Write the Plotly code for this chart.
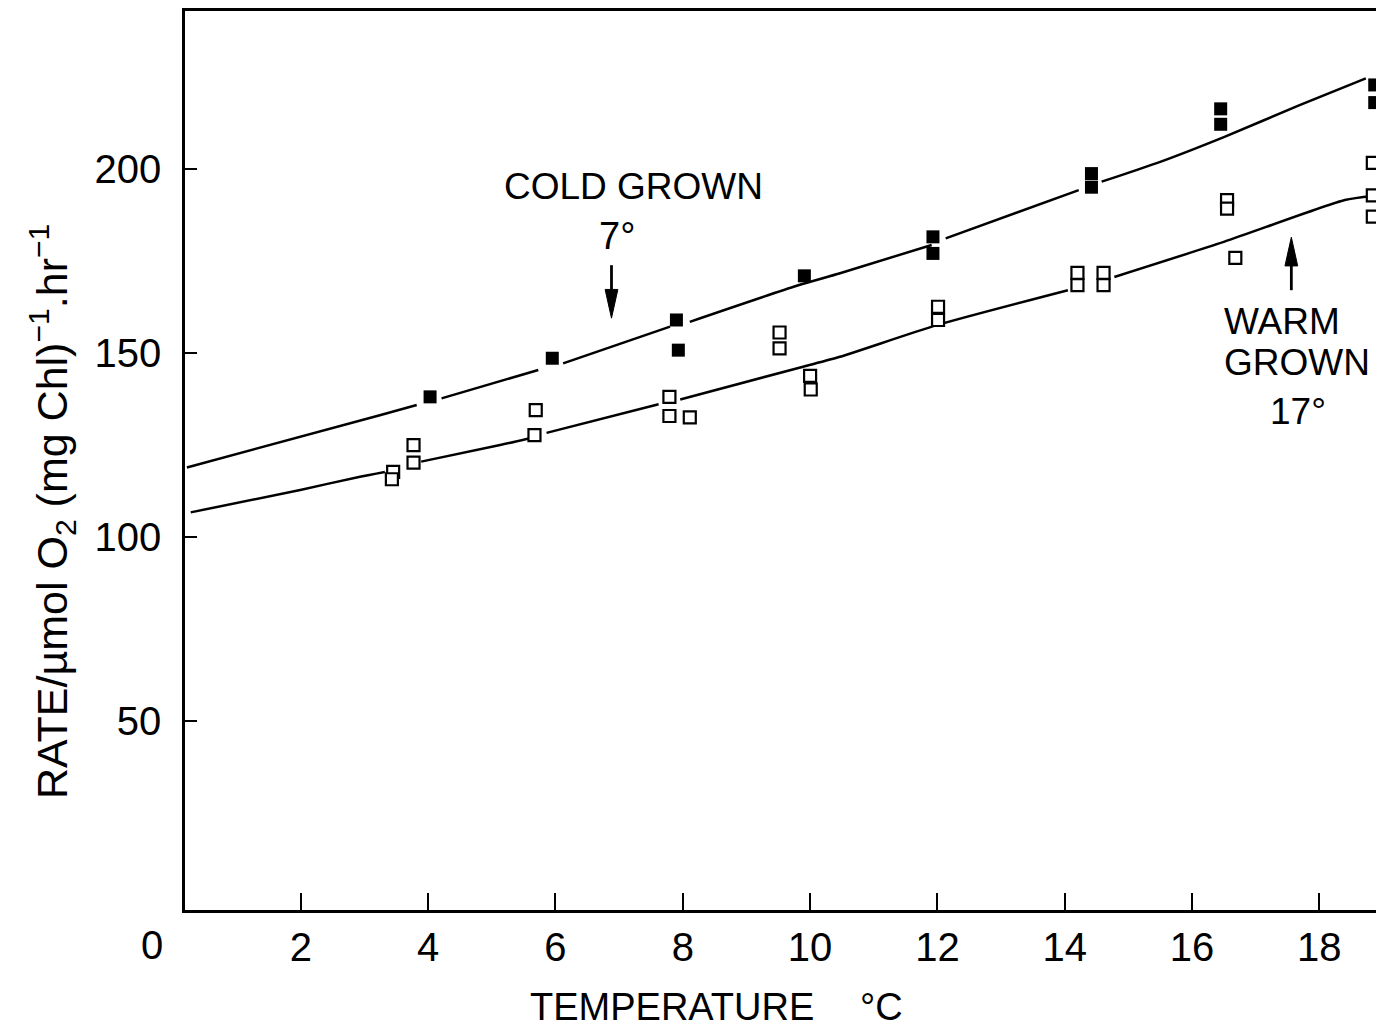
import plotly.graph_objects as go

# ---- measured rates -------------------------------------------------------
# Cold grown (7 °C) cells, filled squares
cold_temp = [4.03, 5.95, 7.90, 7.93, 9.91, 11.93, 11.93, 14.42, 14.42,
             16.45, 16.45, 18.87, 18.87]
cold_rate = [138.0, 148.5, 158.9, 150.7, 170.9, 181.5, 177.0, 198.7, 195.0,
             216.3, 212.1, 222.8, 218.0]

# Warm grown (17 °C) cells, open squares
warm_temp = [3.45, 3.43, 3.77, 3.77, 5.69, 5.67, 7.79, 7.79, 8.11,
             9.52, 9.52, 10.00, 10.01, 12.01, 12.01, 14.20, 14.20,
             14.61, 14.61, 16.55, 16.55, 16.68, 18.84, 18.84, 18.84]
warm_rate = [117.6, 115.6, 124.9, 120.1, 134.4, 127.6, 138.0, 132.8, 132.4,
             155.5, 151.2, 143.7, 140.0, 162.5, 158.9, 171.7, 168.4,
             171.7, 168.4, 191.5, 189.2, 175.8, 201.6, 192.8, 187.0]

# ---- hand-fitted curves (None = pen lifted around a symbol) ---------------
cold_fit_temp = [0.21, 3.24, 3.82, None, 4.21, 5.73, None, 6.12, 7.80, None,
                 8.11, 9.79, 10.47, 11.91, None, 12.13, 14.22, None,
                 14.58, 15.50, 16.51, 17.69, 18.73]
cold_fit_rate = [118.8, 133.0, 135.8, None, 137.6, 145.3, None, 147.1, 157.1, None,
                 158.4, 168.2, 171.6, 179.3, None, 181.1, 194.2, None,
                 196.5, 201.9, 208.7, 217.3, 224.6]

warm_fit_temp = [0.27, 1.99, 2.93, 3.32, None, 3.89, 5.13, 5.58, None,
                 5.86, 7.62, None, 7.96, 9.89, 10.47, 11.99, 14.05, None,
                 14.78, 16.51, 18.40, 18.84]
warm_fit_rate = [106.6, 112.7, 116.3, 117.6, None, 120.4, 124.9, 126.7, None,
                 128.2, 136.0, None, 137.3, 146.2, 148.9, 157.5, 167.0, None,
                 170.6, 180.2, 191.5, 192.6]

x_ticks = [2, 4, 6, 8, 10, 12, 14, 16, 18]
y_ticks = [50, 100, 150, 200]

X_RANGE = [0.18, 18.89]
Y_RANGE = [-1.5, 242.9]

# growth temperature markers (arrow tip temperature / rate)
cold_arrow = dict(temp=6.88, tip=159.4, base=167.2, tail=173.8)
warm_arrow = dict(temp=17.56, tip=181.4, base=173.6, tail=167.0)

W, H = 1376, 1030
ML, MR, MT, MB = 185, 0, 11, 120
PW, PH = W - ML - MR, H - MT - MB

FONT = "Liberation Sans, Arial, sans-serif"
INK = "black"


def paper(xp, yp):
    """Pixel position on the page -> paper coordinates."""
    return dict(xref="paper", yref="paper", x=(xp - ML) / PW, y=(H - MB - yp) / PH)


fig = go.Figure()

for fx, fy in ((cold_fit_temp, cold_fit_rate), (warm_fit_temp, warm_fit_rate)):
    fig.add_trace(go.Scatter(x=fx, y=fy, mode="lines",
                             line=dict(color=INK, width=2.5, shape="spline",
                                       smoothing=0.6),
                             connectgaps=False, hoverinfo="skip"))

fig.add_trace(go.Scatter(x=warm_temp, y=warm_rate, mode="markers",
                         marker=dict(symbol="square", size=12, color="white",
                                     line=dict(color=INK, width=2.2)),
                         cliponaxis=False))
fig.add_trace(go.Scatter(x=cold_temp, y=cold_rate, mode="markers",
                         marker=dict(symbol="square", size=13, color=INK,
                                     line=dict(color=INK, width=0)),
                         cliponaxis=False))

# arrows: shaft + slender filled head
head_half = 0.10
for a in (cold_arrow, warm_arrow):
    fig.add_shape(type="line", xref="x", yref="y",
                  x0=a["temp"], x1=a["temp"], y0=a["tail"], y1=a["base"],
                  line=dict(color=INK, width=2.8))
    fig.add_shape(type="path", xref="x", yref="y",
                  path=(f"M {a['temp'] - head_half},{a['base']} "
                        f"L {a['temp'] + head_half},{a['base']} "
                        f"L {a['temp']},{a['tip']} Z"),
                  fillcolor=INK, line=dict(color=INK, width=1))

annotations = [
    dict(text="COLD GROWN", font=dict(size=37), xanchor="center", yanchor="middle",
         **paper(633, 186)),
    dict(text="7°", font=dict(size=38), xanchor="center", yanchor="middle",
         **paper(617, 236)),
    dict(text="WARM", font=dict(size=37), xanchor="left", yanchor="middle",
         **paper(1222, 322)),
    dict(text="GROWN", font=dict(size=37), xanchor="left", yanchor="middle",
         **paper(1222, 363)),
    dict(text="17°", font=dict(size=37), xanchor="center", yanchor="middle",
         **paper(1298, 411)),
    dict(text="0", font=dict(size=40), xanchor="center", yanchor="middle",
         **paper(152, 945)),
    dict(text="TEMPERATURE", font=dict(size=38), xanchor="center", yanchor="middle",
         **paper(672, 1007)),
    dict(text="°C", font=dict(size=38), xanchor="center", yanchor="middle",
         **paper(881, 1007)),
    dict(text="RATE/µmol O<sub>2</sub> (mg Chl)<sup>−1</sup>.hr<sup>−1</sup>",
         font=dict(size=43), textangle=-90, xanchor="center", yanchor="middle",
         **paper(52, 512)),
]
for a in annotations:
    a.setdefault("showarrow", False)
    a["font"].update(family=FONT, color=INK)

axis_common = dict(showgrid=False, zeroline=False, showline=True,
                   linecolor=INK, linewidth=2.5, ticks="inside",
                   tickcolor=INK, tickwidth=2,
                   tickfont=dict(family=FONT, size=40, color=INK))

fig.update_layout(
    width=W, height=H,
    margin=dict(l=ML, r=MR, t=MT, b=MB),
    plot_bgcolor="white", paper_bgcolor="white",
    showlegend=False,
    annotations=annotations,
    xaxis=dict(range=X_RANGE, tickvals=x_ticks, ticklen=17, mirror=True,
               ticklabelstandoff=0, **axis_common),
    yaxis=dict(range=Y_RANGE, tickvals=y_ticks, ticklen=12,
               ticklabelstandoff=13, **axis_common),
)

fig.write_html("out.html")
